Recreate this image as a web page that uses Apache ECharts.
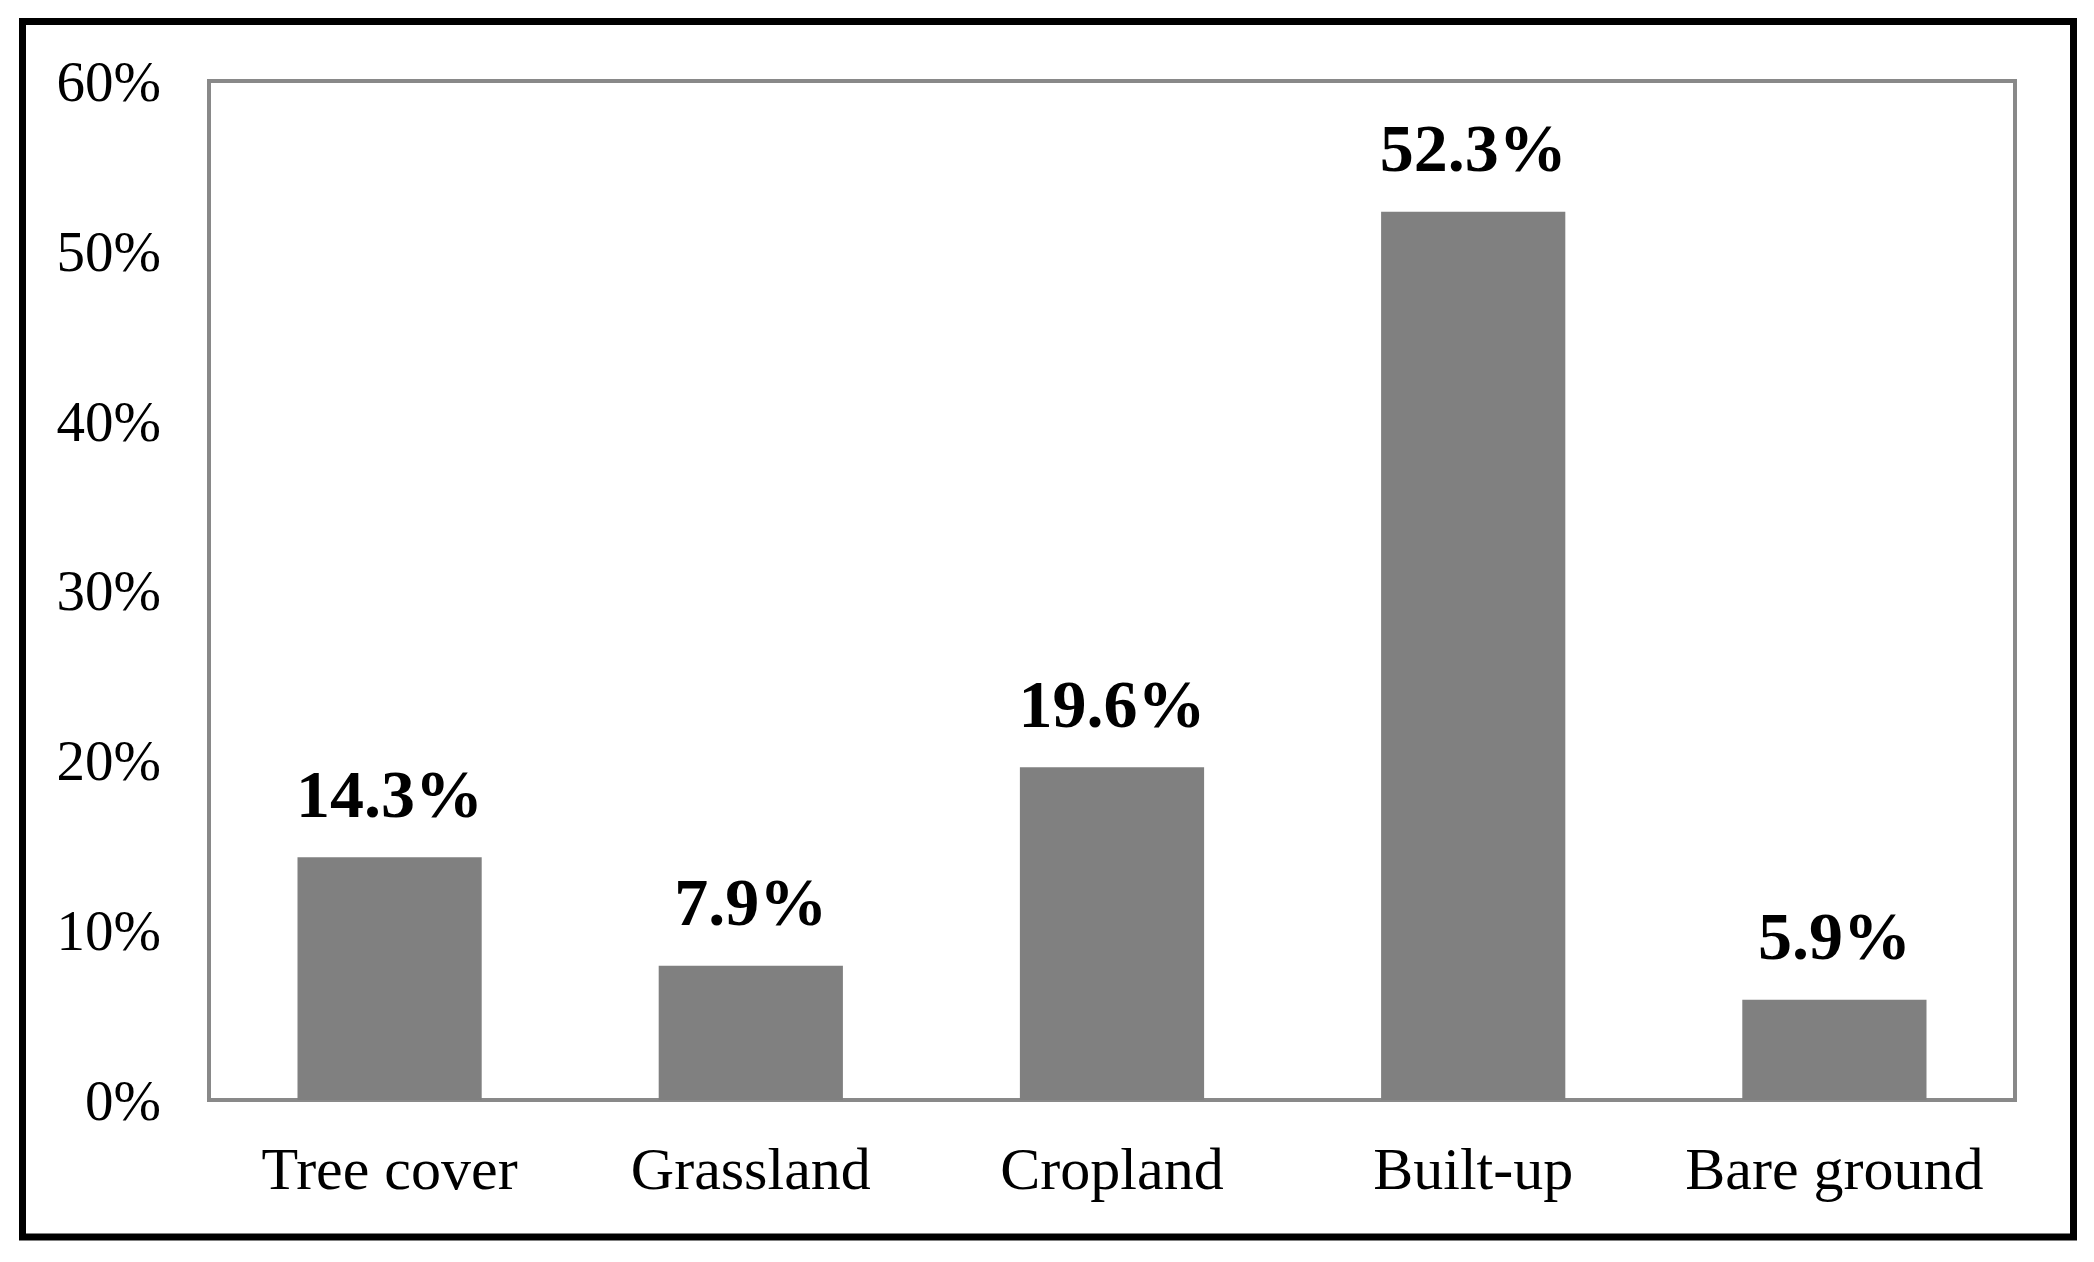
<!DOCTYPE html>
<html>
<head>
<meta charset="utf-8">
<style>
html,body{margin:0;padding:0;background:#fff;}
#chart{width:2094px;height:1262px;}
</style>
<script src="https://cdn.jsdelivr.net/npm/echarts@6/dist/echarts.min.js"></script>
</head>
<body>
<div id="chart"></div>
<script>
const categories = ['Tree cover', 'Grassland', 'Cropland', 'Built-up', 'Bare ground'];
const shares = [14.3, 7.9, 19.6, 52.3, 5.9];
const yTicks = [0, 10, 20, 30, 40, 50, 60];

const chart = echarts.init(document.getElementById('chart'), null, {renderer: 'canvas'});
const font = '"Liberation Serif", "Times New Roman", serif';
chart.setOption({
  animation: false,
  backgroundColor: '#ffffff',
  graphic: [{
    type: 'rect',
    shape: {x: 22.5, y: 21.5, width: 2051, height: 1215.5},
    style: {fill: 'none', stroke: '#000000', lineWidth: 7},
    silent: true,
    z: 10
  }],
  grid: {
    left: 209, top: 81, right: 79, bottom: 162,
    show: true, borderColor: '#898989', borderWidth: 4, backgroundColor: 'transparent'
  },
  xAxis: {
    type: 'category',
    data: categories,
    axisLine: {show: true, lineStyle: {color: '#898989', width: 4}},
    axisTick: {show: false},
    axisLabel: {fontFamily: font, fontSize: 60, color: '#000', margin: 43, interval: 0}
  },
  yAxis: {
    type: 'value',
    min: yTicks[0], max: yTicks[yTicks.length - 1], interval: 10,
    axisLine: {show: false},
    axisTick: {show: false},
    splitLine: {show: false},
    axisLabel: {
      margin: 48,
      formatter: v => '{t|' + v + '%}',
      rich: {t: {fontFamily: font, fontSize: 57, color: '#000', padding: [10, 0, 0, 0]}}
    }
  },
  series: [{
    type: 'bar',
    data: shares,
    barWidth: '51%',
    itemStyle: {color: '#808080'},
    label: {
      show: true, position: 'top', distance: 24,
      fontFamily: font, fontSize: 68, fontWeight: 'bold', color: '#000',
      formatter: p => p.value.toFixed(1) + '%'
    }
  }]
});
</script>
</body>
</html>
